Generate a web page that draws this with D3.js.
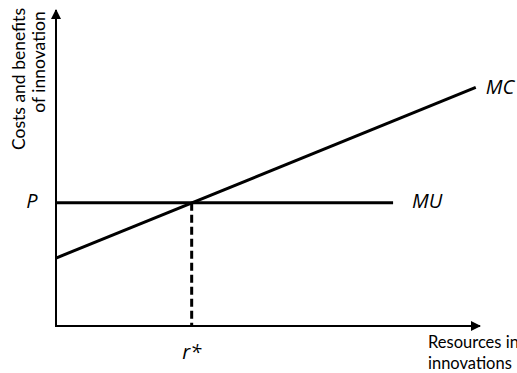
<!DOCTYPE html>
<html lang="en">
<head>
<meta charset="UTF-8">
<title>Costs and benefits of innovation</title>
<script src="https://d3js.org/d3.v7.min.js"></script>
<style>
    body { margin: 0; background: #fff; }
    text { font-family: "Open Sans", Lato, sans-serif; fill: #000; }
    .title { font-family: Lato, "Open Sans", sans-serif; }
    .curve { fill: none; stroke: #000; stroke-width: 3; }
</style>
</head>
<body>
<svg width="517" height="373"></svg>
<script>
    // data (arbitrary units, 0-100 on both axes)
    const mcPoints = [{r: 0, v: 21.5}, {r: 99, v: 75.5}];
    const muPoints = [{r: 0, v: 39}, {r: 79.5, v: 39}];
    const rStar = 32;
    const priceLevel = 39;
    const curveLabels = ["MC", "MU"];
    const yTitle = ["Costs and benefits", "of innovation"];
    const xTitle = ["Resources in", "innovations"];

    const svg = d3.select("svg");

    const x = d3.scaleLinear().domain([0, 100]).range([56, 480]);
    const y = d3.scaleLinear().domain([0, 100]).range([326, 10]);

    const line = d3.line().x(d => x(d.r)).y(d => y(d.v));

    // arrow heads
    const defs = svg.append("defs");
    defs.append("marker")
        .attr("id", "arrow")
        .attr("viewBox", "0 0 10 10")
        .attr("refX", 9).attr("refY", 5)
        .attr("markerWidth", 5).attr("markerHeight", 5)
        .attr("orient", "auto")
        .append("path")
        .attr("d", "M0,0 L10,5 L0,10 Z")
        .attr("fill", "#000");

    // axes
    svg.append("line")
        .attr("x1", x(0)).attr("y1", y(0))
        .attr("x2", x(0)).attr("y2", y(100))
        .attr("stroke", "#000").attr("stroke-width", 2)
        .attr("marker-end", "url(#arrow)");
    svg.append("line")
        .attr("x1", x(0) - 1).attr("y1", y(0))
        .attr("x2", x(100)).attr("y2", y(0))
        .attr("stroke", "#000").attr("stroke-width", 2)
        .attr("marker-end", "url(#arrow)");

    // curves
    svg.append("path").datum(mcPoints).attr("class", "curve").attr("d", line);
    svg.append("path").datum(muPoints).attr("class", "curve").attr("d", line);

    // dashed drop line at r*
    svg.append("line")
        .attr("x1", x(rStar)).attr("y1", y(priceLevel))
        .attr("x2", x(rStar)).attr("y2", y(0))
        .attr("stroke", "#000").attr("stroke-width", 3)
        .attr("stroke-dasharray", "8,4");

    // curve labels
    const lastMc = mcPoints[mcPoints.length - 1];
    const lastMu = muPoints[muPoints.length - 1];
    svg.append("text")
        .attr("x", x(lastMc.r) + 10).attr("y", y(lastMc.v) + 1)
        .attr("dominant-baseline", "middle")
        .style("font-size", "20px").style("font-style", "italic")
        .text(curveLabels[0]);
    svg.append("text")
        .attr("x", x(lastMu.r) + 19).attr("y", y(lastMu.v))
        .attr("dominant-baseline", "middle")
        .style("font-size", "20px").style("font-style", "italic")
        .text(curveLabels[1]);

    // P and r* labels
    svg.append("text")
        .attr("x", 32).attr("y", y(priceLevel))
        .attr("text-anchor", "middle").attr("dominant-baseline", "middle")
        .style("font-size", "20px").style("font-style", "italic")
        .text("P");
    svg.append("text")
        .attr("x", x(rStar)).attr("y", 359)
        .attr("text-anchor", "middle")
        .style("font-size", "20px").style("font-style", "italic")
        .text("r*");

    // axis titles
    svg.append("text").attr("class", "title")
        .attr("transform", "translate(25,79) rotate(-90)")
        .attr("text-anchor", "middle")
        .style("font-size", "17.5px")
        .text(yTitle[0]);
    svg.append("text").attr("class", "title")
        .attr("transform", "translate(45,62) rotate(-90)")
        .attr("text-anchor", "middle")
        .style("font-size", "17.5px")
        .text(yTitle[1]);

    svg.append("text").attr("class", "title")
        .attr("x", 428).attr("y", 348)
        .style("font-size", "16.5px")
        .text(xTitle[0]);
    svg.append("text").attr("class", "title")
        .attr("x", 428).attr("y", 369)
        .style("font-size", "16.5px")
        .text(xTitle[1]);
</script>
</body>
</html>
